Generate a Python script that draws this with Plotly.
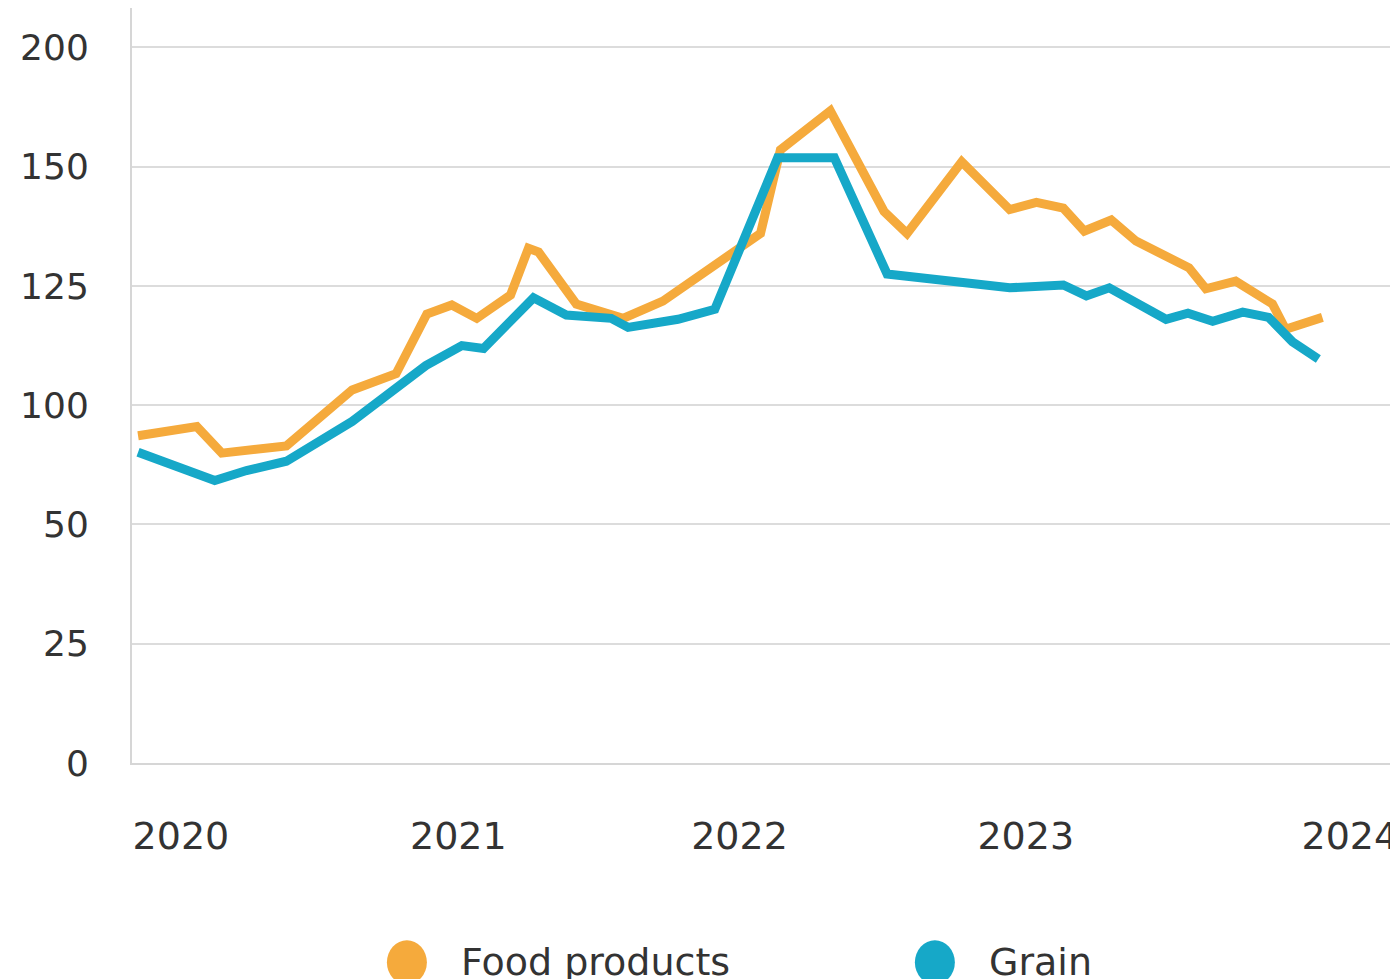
import numpy as np
import plotly.graph_objects as go

# y-axis tick labels (evenly spaced on the chart even though the values are not)
y_tick_values = [0, 25, 50, 100, 125, 150, 200]

# x positions are month indices counted from January 2020
x_tick_months = [1.7, 12.7, 23.85, 35.2, 48.05]
x_tick_labels = ["2020", "2021", "2022", "2023", "2024"]

food_months = [0, 2.33, 3.32, 5.88, 8.49, 10.23, 11.45, 12.44, 13.43, 14.77, 15.48, 15.88,
               17.38, 19.23, 20.81, 22.71, 24.68, 25.47, 27.45, 29.58, 30.49, 32.66, 34.56,
               35.62, 36.69, 37.52, 38.59, 39.57, 41.67, 42.34, 43.52, 44.98, 45.50, 46.96]
food_values = [87.2, 91.0, 79.9, 82.9, 103.2, 106.6, 119.1, 121.0, 118.2, 123.1, 132.9, 132.1,
               121.2, 118.2, 121.8, 128.8, 136.0, 157.0, 173.4, 140.6, 136.0, 152.0, 141.0,
               142.5, 141.3, 136.5, 138.8, 134.4, 128.8, 124.4, 126.0, 121.2, 115.9, 118.4]

grain_months = [0, 1.66, 3.04, 4.30, 5.88, 8.49, 10.23, 11.41, 12.84, 13.70, 15.68, 16.98,
                18.76, 19.43, 21.41, 22.87, 25.36, 27.61, 29.70, 34.56, 36.69, 37.60, 38.51,
                40.76, 41.63, 42.61, 43.80, 44.83, 45.77, 46.80]
grain_values = [80.3, 73.5, 68.4, 72.6, 76.5, 93.2, 103.8, 108.3, 112.5, 111.9, 122.5, 118.9,
                118.2, 116.3, 118.0, 120.1, 153.7, 153.7, 127.5, 124.6, 125.2, 122.9, 124.6,
                118.0, 119.3, 117.6, 119.5, 118.4, 113.3, 109.7]

series_names = ["Food products", "Grain"]
series_colors = ["#F5AA3C", "#16A8C8"]

tick_pos = np.arange(len(y_tick_values))


def to_axis(vals):
    # map values onto the chart's evenly spaced tick scale
    return np.interp(vals, y_tick_values, tick_pos)


font_family = "DejaVu Sans"
text_color = "#333333"

fig = go.Figure()
fig.add_trace(go.Scatter(x=food_months, y=to_axis(food_values), mode="lines",
                         name=series_names[0], showlegend=False,
                         line=dict(color=series_colors[0], width=9)))
fig.add_trace(go.Scatter(x=grain_months, y=to_axis(grain_values), mode="lines",
                         name=series_names[1], showlegend=False,
                         line=dict(color=series_colors[1], width=9)))

# manual legend with large circular markers
legend_x = [0.218, 0.6367]
text_x = [0.259, 0.6777]
leg_y = -0.264
shapes = []
annotations = []
for i in range(2):
    shapes.append(dict(type="circle", xref="paper", yref="paper",
                       xsizemode="pixel", ysizemode="pixel",
                       xanchor=legend_x[i], yanchor=leg_y,
                       x0=-20, x1=20, y0=-22, y1=22,
                       fillcolor=series_colors[i], line=dict(width=0)))
    annotations.append(dict(xref="paper", yref="paper", x=text_x[i], y=leg_y,
                            text=series_names[i], showarrow=False,
                            xanchor="left", yanchor="middle",
                            font=dict(family=font_family, size=38, color=text_color)))

fig.update_layout(
    width=1390, height=971,
    margin=dict(l=124, r=0, t=0, b=216),
    paper_bgcolor="white", plot_bgcolor="white",
    showlegend=False,
    shapes=shapes,
    annotations=annotations,
    xaxis=dict(range=[-0.24, 49.76], tickmode="array", tickvals=x_tick_months,
               ticktext=x_tick_labels, showgrid=False, zeroline=False,
               showline=True, linecolor="#d6d6d6", linewidth=2,
               ticks="", ticklabelstandoff=38, ticklabeloverflow="allow",
               tickfont=dict(family=font_family, size=38, color=text_color)),
    yaxis=dict(range=[0, 6.33], tickmode="array", tickvals=list(tick_pos),
               ticktext=[str(v) for v in y_tick_values],
               showgrid=True, gridcolor="#dcdcdc", gridwidth=2, zeroline=False,
               showline=True, linecolor="#d6d6d6", linewidth=2,
               ticks="", ticklabelstandoff=34,
               tickfont=dict(family=font_family, size=36, color=text_color)),
)

fig.write_html("out.html")
